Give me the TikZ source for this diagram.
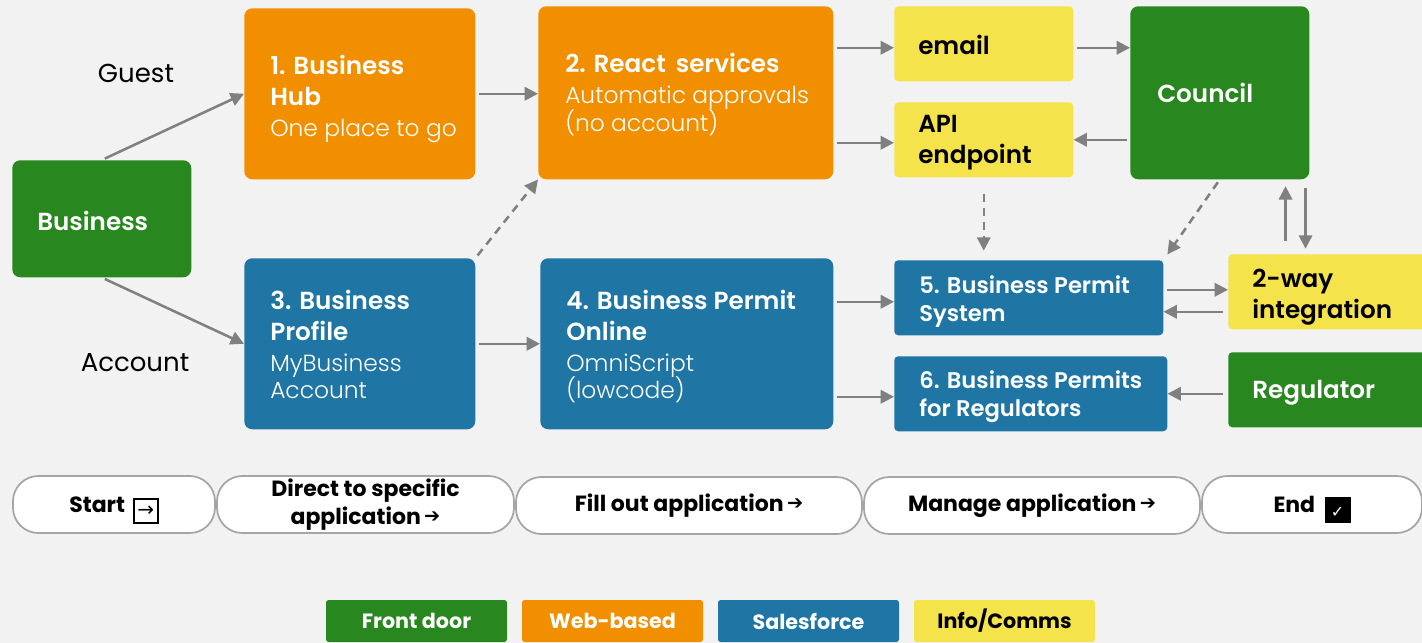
\documentclass[tikz,border=0pt]{standalone}
\usepackage{fontspec}
\setmainfont{Poppins}[BoldFont={* SemiBold}]
\newfontfamily\lightfont{Poppins Light}
\newfontfamily\heavyfont{Poppins Bold}
\newfontfamily\symfont{DejaVu Sans}
\usetikzlibrary{arrows.meta,calc}

\definecolor{bggray}{HTML}{F2F2F2}
\definecolor{fdgreen}{HTML}{29871F}
\definecolor{weborange}{HTML}{F18F00}
\definecolor{sfblue}{HTML}{1F76A4}
\definecolor{infoyellow}{HTML}{F4E34B}
\definecolor{linkgray}{HTML}{808080}
\definecolor{pillgray}{HTML}{A5A5A5}

\newcommand{\stagestarticon}{\smash{\raisebox{-3.5pt}{\setlength{\fboxsep}{0.6pt}\setlength{\fboxrule}{1.5pt}%
  \fbox{\makebox[15pt][c]{\rule[-3.5pt]{0pt}{15.5pt}\symfont\fontsize{15}{15}\selectfont →}}}}}
\newcommand{\stagedoneicon}{\smash{\raisebox{-4pt}{\setlength{\fboxsep}{0pt}%
  \colorbox{black}{\makebox[19.5pt][c]{\rule[-4pt]{0pt}{19.5pt}\color{white}\symfont\fontsize{12}{12}\selectfont ✓}}}}}
\newcommand{\stagenexticon}{\hspace{2.5pt}\smash{\raisebox{1.2pt}{\symfont\fontsize{14.5}{14.5}\selectfont ➔}}}

\begin{document}
\begin{tikzpicture}[x=0.75pt,y=-0.75pt,
  card/.style={inner sep=0pt, anchor=north west, rounded corners=6pt},
  smallcard/.style={card, rounded corners=3pt},
  frontdoor/.style={fill=fdgreen},
  webbased/.style={fill=weborange},
  salesforce/.style={fill=sfblue},
  infocomms/.style={fill=infoyellow},
  cardtext/.style={inner sep=0pt, anchor=west, align=left, text=white,
    font=\fontsize{18.5}{23.25}\selectfont},
  darktext/.style={cardtext, text=black},
  tighttext/.style={cardtext, font=\fontsize{17}{21}\selectfont},
  pathlabel/.style={inner sep=0pt, anchor=base, font=\fontsize{19.5}{22}\selectfont},
  pill/.style={draw=pillgray, line width=1.3pt, fill=white, rounded corners=19pt,
    minimum height=42.75pt, inner sep=0pt, align=center,
    font=\heavyfont\fontsize{16.5}{20.5}\selectfont},
  legendbox/.style={inner sep=0pt, rounded corners=2pt, minimum width=135.75pt,
    minimum height=31.5pt, text=white, font=\heavyfont\fontsize{15.5}{18}\selectfont},
  conn/.style={draw=linkgray, line width=1.9pt, shorten <=2.5pt,
    -{Triangle[length=10pt,width=10pt]}},
  dashconn/.style={conn, dash pattern=on 6pt off 4.5pt}
]
\useasboundingbox (0,0) rectangle (1422,643);
\clip (0,0) rectangle (1422,643);
\fill[bggray] (0,0) rectangle (1422,643);

% ---- front door, web-based and Salesforce cards ----
\node[card, frontdoor, minimum width=134.25pt, minimum height=87.75pt] (biz) at (12,160) {};
\node[card, webbased, minimum width=173.25pt, minimum height=128.25pt] (hub) at (244,8) {};
\node[card, webbased, minimum width=221.25pt, minimum height=129.75pt] (react) at (538,6) {};
\node[smallcard, infocomms, minimum width=134.25pt, minimum height=56.25pt] (email) at (894,6) {};
\node[smallcard, infocomms, minimum width=134.25pt, minimum height=56.25pt] (api) at (894,102) {};
\node[card, frontdoor, minimum width=134.25pt, minimum height=129.75pt] (council) at (1130,6) {};
\node[card, salesforce, minimum width=173.25pt, minimum height=128.25pt] (prof) at (244,258) {};
\node[card, salesforce, minimum width=219.75pt, minimum height=128.25pt] (bpo) at (540,258) {};
\node[smallcard, salesforce, minimum width=201.75pt, minimum height=56.25pt] (bps) at (894,260) {};
\node[smallcard, salesforce, minimum width=204.75pt, minimum height=56.25pt] (bpr) at (894,356) {};
\node[smallcard, infocomms, minimum width=155pt, minimum height=56.25pt] (twoway) at (1228,254) {};
\node[smallcard, frontdoor, minimum width=155pt, minimum height=56.25pt] (regulator) at (1228,352) {};

% ---- card texts (bold titles, light descriptions) ----
\newcommand{\desc}[1]{{\lightfont\fontsize{17.5}{23.25}\selectfont #1}}
\node[cardtext] (biz-t) at ($(biz.west)+(25,2)$) {\textbf{Business}};
\node[cardtext] (hub-t) at ($(hub.west)+(26,5)$)
  {\textbf{1. Business}\\\textbf{Hub}\\\desc{One place to go}};
\node[cardtext] (react-t) at ($(react.west)+(27,2)$)
  {\textbf{2. React\, services}\\\desc{Automatic approvals}\\[-2pt]\desc{(no account)}};
\node[darktext] (email-t) at ($(email.west)+(24,1)$) {\textbf{email}};
\node[darktext] (api-t) at ($(api.west)+(24,3)$) {\textbf{API}\\\textbf{endpoint}};
\node[cardtext] (council-t) at ($(council.west)+(27,0)$) {\textbf{Council}};
\node[cardtext] (prof-t) at ($(prof.west)+(26,1)$)
  {\textbf{3. Business}\\\textbf{Profile}\\\desc{MyBusiness}\\[-3pt]\desc{Account}};
\node[cardtext] (bpo-t) at ($(bpo.west)+(26,3)$)
  {\textbf{4. Business Permit}\\\textbf{Online}\\\desc{OmniScript}\\[-3pt]\desc{(lowcode)}};
\node[tighttext] (bps-t) at ($(bps.west)+(25,4)$) {\textbf{5. Business Permit}\\\textbf{System}};
\node[tighttext] (bpr-t) at ($(bpr.west)+(25,3)$) {\textbf{6. Business Permits}\\\textbf{for Regulators}};
\node[darktext] (twoway-t) at ($(twoway.west)+(24,5)$) {\textbf{2-way}\\\textbf{integration}};
\node[cardtext] (regulator-t) at ($(regulator.west)+(24,3)$) {\textbf{Regulator}};

% ---- path labels ----
\node[pathlabel] (guest) at (136,82) {Guest};
\node[pathlabel] (account) at (135,371) {Account};

% ---- connectors ----
\draw[conn] (biz.north) -- (hub.west);
\draw[conn] (biz.south) -- (prof.west);
\draw[conn] (hub.east) -- (hub.east -| react.west);
\draw[conn] (prof.east) -- (prof.east -| bpo.west);
\draw[dashconn] (prof.north east) -- (react.south west);
\draw[conn] ($(react.east |- email.west)+(0,4)$) -- ($(email.west)+(0,4)$);
\draw[conn] ($(react.east |- api.west)+(0,3)$) -- ($(api.west)+(0,3)$);
\draw[conn] ($(email.east)+(0,4)$) -- ($(email.east -| council.west)+(0,4)$);
\draw[conn] (council.west |- api.east) -- (api.east);
\draw[dashconn, shorten <=12pt, shorten >=7pt] (api.south) -- (api.south |- bps.north);
\draw[dashconn, shorten >=5pt] (council.south) -- (bps.north east);
\coordinate (upx) at ($(council.south east)+(-24,0)$);
\coordinate (dnx) at ($(council.south east)+(-4,0)$);
\draw[conn, shorten <=10pt, shorten >=5pt] (upx |- twoway.north) -- (upx);
\draw[conn, shorten <=6pt, shorten >=4pt] (dnx) -- (dnx |- twoway.north);
\draw[conn] ($(bps.east)+(0,-8)$) -- ($(bps.east -| twoway.west)+(0,-8)$);
\draw[conn, shorten <=4pt] ($(bps.east -| twoway.west)+(0,14)$) -- ($(bps.east)+(0,14)$);
\draw[conn] ($(bpo.east |- bps.west)+(0,4)$) -- ($(bps.west)+(0,4)$);
\draw[conn] ($(bpo.east |- bpr.west)+(0,3)$) -- ($(bpr.west)+(0,3)$);
\draw[conn, shorten <=4pt] (regulator.west |- bpr.east) -- (bpr.east);

% ---- stages ----
\node[pill, minimum width=151.5pt] (s-start) at (114,504.5) {Start\hspace{6pt}\stagestarticon};
\node[pill, minimum width=222.75pt] (s-direct) at (365.5,504.5) {Direct to specific\\application\stagenexticon};
\node[pill, minimum width=259.5pt] (s-fill) at (689,505.5) {Fill out application\stagenexticon};
\node[pill, minimum width=252pt] (s-manage) at (1032,505.5) {Manage application\stagenexticon};
\node[pill, minimum width=165pt] (s-end) at (1312,504.5) {End\hspace{7pt}\stagedoneicon};

% ---- legend ----
\node[legendbox, fill=fdgreen] (lg-fd) at (416.5,621) {Front door};
\node[legendbox, fill=weborange] (lg-web) at (612.5,621) {Web-based};
\node[legendbox, fill=sfblue] (lg-sf) at (808.5,621) {Salesforce};
\node[legendbox, fill=infoyellow, text=black] (lg-info) at (1004.5,621) {Info/Comms};
\end{tikzpicture}
\end{document}
